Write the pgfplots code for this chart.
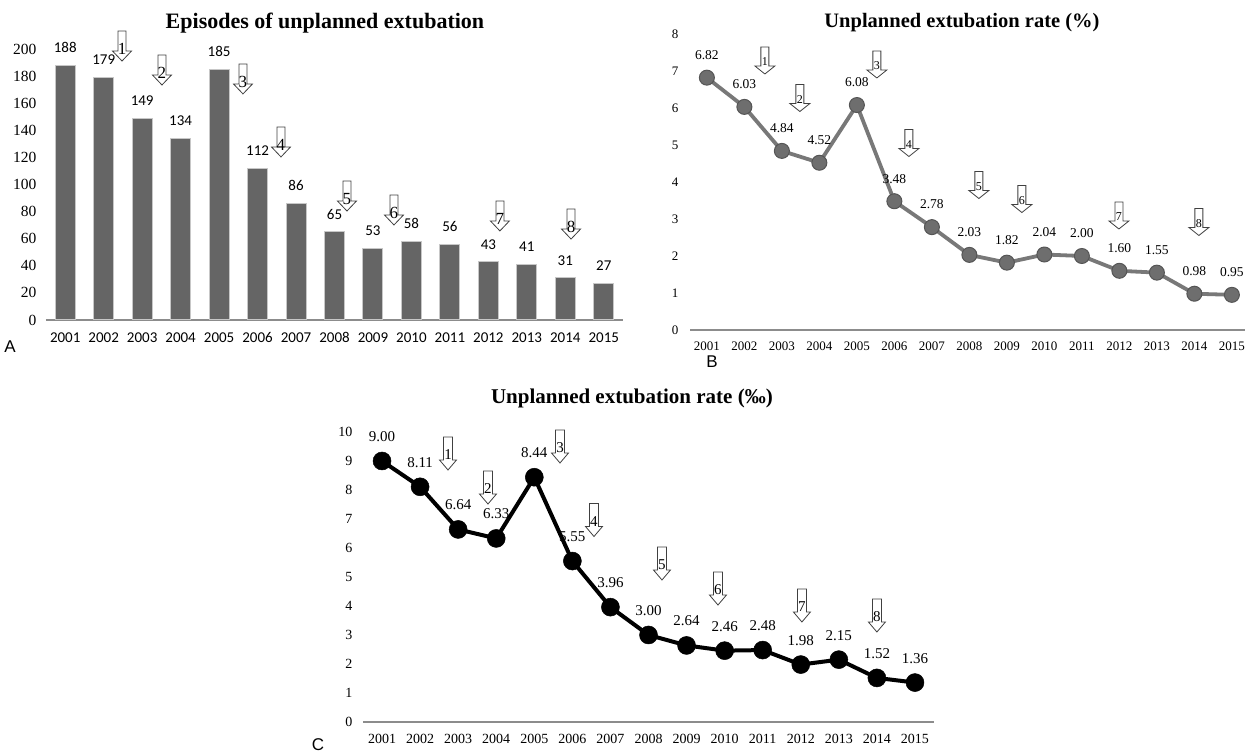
\documentclass[border=0pt]{standalone}
\usepackage{fontspec}
\usepackage{pgfplots}
\pgfplotsset{compat=1.18}
\setmainfont{Liberation Serif}
\newfontfamily\calibri{Carlito}
\newfontfamily\arial{Liberation Sans}
\newcommand\fs[1]{\fontsize{#1}{#1}\selectfont}
\definecolor{barA}{HTML}{656565}
\definecolor{lineB}{HTML}{787878}
\definecolor{markB}{HTML}{6E6E6E}
\definecolor{markBd}{HTML}{555555}
\definecolor{axisgray}{HTML}{8C8C8C}
\tikzset{arrowline/.style={draw=black!75, fill=white, line width=0.8pt, line join=miter}}
\newcommand\arrowA[3]{%
  \draw[arrowline] (axis cs:#1,#2) ++(-4pt,15pt) -- ++(8pt,0pt) -- ++(0pt,-20pt) -- ++(5.5pt,0pt) -- ++(-9.5pt,-10pt) -- ++(-9.5pt,10pt) -- ++(5.5pt,0pt) -- cycle;
  \node[font=\fs{17}, inner sep=0pt] at ([yshift=-3pt]axis cs:#1,#2) {#3};}
\newcommand\arrowB[3]{%
  \draw[arrowline] (axis cs:#1,#2) ++(-4pt,13.5pt) -- ++(8pt,0pt) -- ++(0pt,-19pt) -- ++(6pt,0pt) -- ++(-10pt,-8pt) -- ++(-10pt,8pt) -- ++(6pt,0pt) -- cycle;
  \node[font=\fs{12}, inner sep=0pt] at ([yshift=-1.5pt]axis cs:#1,#2) {#3};}
\newcommand\arrowC[3]{%
  \draw[arrowline] (axis cs:#1,#2) ++(-4.5pt,16.5pt) -- ++(9pt,0pt) -- ++(0pt,-23pt) -- ++(4pt,0pt) -- ++(-8.5pt,-10pt) -- ++(-8.5pt,10pt) -- ++(4pt,0pt) -- cycle;
  \node[font=\fs{15}, inner sep=0pt] at ([yshift=-1.5pt]axis cs:#1,#2) {#3};}
\pgfplotsset{
  uestyle/.style={
    scale only axis, clip=false, enlargelimits=false,
    axis x line*=bottom, axis y line*=left,
    y axis line style={draw=none},
    x axis line style={-, draw=axisgray, line width=1.3pt},
    major tick length=0pt,
    xtick={1,...,15},
    xticklabels={2001,2002,2003,2004,2005,2006,2007,2008,2009,2010,2011,2012,2013,2014,2015},
    /pgf/number format/assume math mode=true,
  }
}
\begin{document}
\begin{tikzpicture}
\path[use as bounding box] (0,0) rectangle (1245pt,754pt);
% ---------------- Panel A ----------------
\begin{axis}[uestyle, at={(46pt,434pt)}, anchor=south west,
  width=577pt, height=271pt,
  xmin=0.5, xmax=15.5, ymin=0, ymax=200, ytick={0,20,...,200},
  yticklabel style={font=\fs{15.5}, xshift=-6pt},
  xticklabel style={font=\calibri\fs{15}, yshift=-9pt},
]
\addplot[ybar, bar width=20pt, fill=barA, draw=black!22, line width=1pt,
  nodes near coords,
  every node near coord/.append style={font=\calibri\fs{15}, inner sep=0pt, anchor=south, yshift=12pt, text=black}]
  coordinates {(1,188) (2,179) (3,149) (4,134) (5,185) (6,112) (7,86) (8,65) (9,53) (10,58) (11,56) (12,43) (13,41) (14,31) (15,27)};
\node[font=\bfseries\fs{22}] at (rel axis cs:0.4835,1.096) {Episodes of unplanned extubation};
\arrowA{2.476}{202.2}{1}
\arrowA{3.515}{184.5}{2}
\arrowA{5.621}{177.9}{3}
\arrowA{6.609}{131.4}{4}
\arrowA{8.324}{91.5}{5}
\arrowA{9.546}{81.2}{6}
\arrowA{12.30}{76.8}{7}
\arrowA{14.15}{70.8}{8}
\end{axis}
% ---------------- Panel B ----------------
\begin{axis}[uestyle, at={(690pt,424pt)}, anchor=south west,
  width=555pt, height=296pt,
  xmin=0.55, xmax=15.35, ymin=0, ymax=8, ytick={0,...,8},
  yticklabel style={font=\fs{13}, xshift=-8pt},
  xticklabel style={font=\fs{13}, yshift=-8pt},
]
\addplot[color=lineB, line width=3.8pt, mark=*, mark size=7.5pt,
  mark options={fill=markB, draw=markBd, line width=1pt},
  nodes near coords, point meta=explicit symbolic,
  every node near coord/.append style={font=\fs{13.5}, inner sep=0pt, anchor=south, yshift=17.5pt, text=black}]
  coordinates {(1,6.82)[6.82] (2,6.03)[6.03] (3,4.84)[4.84] (4,4.52)[4.52] (5,6.08)[6.08] (6,3.48)[3.48] (7,2.78)[2.78] (8,2.03)[2.03] (9,1.82)[1.82] (10,2.04)[2.04] (11,2.00)[2.00] (12,1.60)[1.60] (13,1.55)[1.55] (14,0.98)[0.98] (15,0.95)[0.95]};
\node[font=\bfseries\fs{20.5}] at (rel axis cs:0.49,1.037) {Unplanned extubation rate (\%)};
\arrowB{2.547}{7.284}{1}
\arrowB{3.48}{6.27}{2}
\arrowB{5.533}{7.176}{3}
\arrowB{6.387}{5.054}{4}
\arrowB{8.253}{3.919}{5}
\arrowB{9.4}{3.54}{6}
\arrowB{11.987}{3.095}{7}
\arrowB{14.12}{2.919}{8}
\end{axis}
% ---------------- Panel C ----------------
\begin{axis}[uestyle, at={(363pt,32pt)}, anchor=south west,
  width=571pt, height=290pt,
  xmin=0.5, xmax=15.5, ymin=0, ymax=10, ytick={0,...,10},
  yticklabel style={font=\fs{14}, xshift=-7pt},
  xticklabel style={font=\fs{14}, yshift=-9pt},
]
\addplot[color=black, line width=4pt, mark=*, mark size=9pt,
  mark options={fill=black, draw=black, line width=0.5pt},
  nodes near coords, point meta=explicit symbolic,
  every node near coord/.append style={font=\fs{15}, inner sep=0pt, anchor=south, yshift=19pt, text=black}]
  coordinates {(1,9.00)[9.00] (2,8.11)[8.11] (3,6.64)[6.64] (4,6.33)[6.33] (5,8.44)[8.44] (6,5.55)[5.55] (7,3.96)[3.96] (8,3.00)[3.00] (9,2.64)[2.64] (10,2.46)[2.46] (11,2.48)[2.48] (12,1.98)[1.98] (13,2.15)[2.15] (14,1.52)[1.52] (15,1.36)[1.36]};
\node[font=\bfseries\fs{21}] at (rel axis cs:0.471,1.114) {Unplanned extubation rate (‰)};
\arrowC{2.733}{9.259}{1}
\arrowC{3.783}{8.086}{2}
\arrowC{5.675}{9.5}{3}
\arrowC{6.568}{6.966}{4}
\arrowC{8.354}{5.466}{5}
\arrowC{9.825}{4.603}{6}
\arrowC{12.03}{4.017}{7}
\arrowC{14.0}{3.672}{8}
\end{axis}
% ---------------- Panel letters ----------------
\node[font=\arial\fs{17}] at (10pt,407pt) {A};
\node[font=\arial\fs{17}] at (712pt,392pt) {B};
\node[font=\arial\fs{17}] at (318pt,9pt) {C};
\end{tikzpicture}
\end{document}
